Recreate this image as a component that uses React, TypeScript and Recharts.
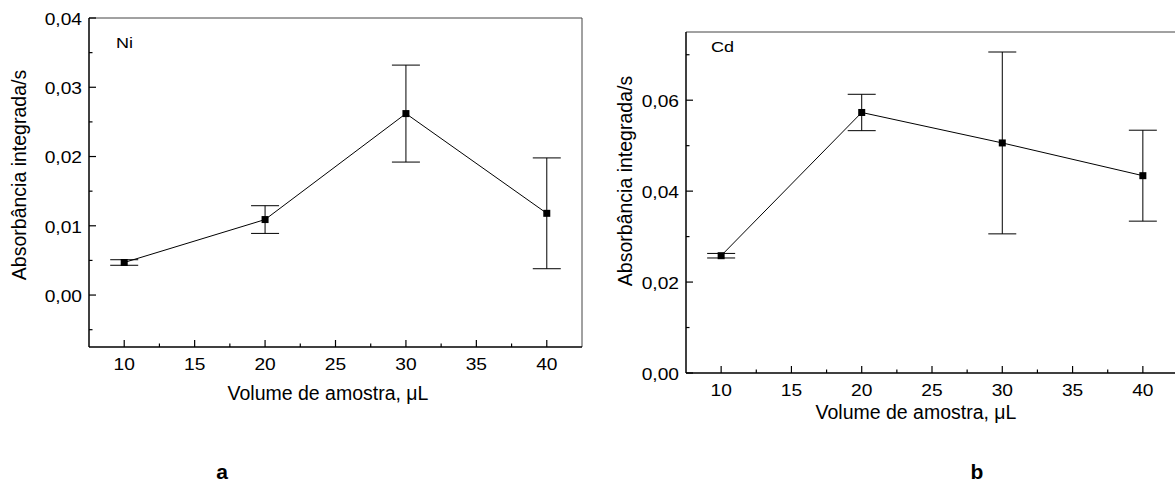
import React from 'react';
import { LineChart, Line, XAxis, YAxis, ErrorBar, ReferenceLine } from 'recharts';

const volumes = [10, 20, 30, 40];
const niValues = [0.0047, 0.0109, 0.0262, 0.0118];
const niErrors = [0.0004, 0.002, 0.007, 0.008];
const cdValues = [0.0258, 0.0573, 0.0506, 0.0434];
const cdErrors = [0.0005, 0.004, 0.02, 0.01];

const xMajorTicks = [10, 15, 20, 25, 30, 35, 40];
const xMinorTicks = [12.5, 17.5, 22.5, 27.5, 32.5, 37.5];
const niYMajorTicks = [0, 0.01, 0.02, 0.03, 0.04];
const niYMinorTicks = [-0.005, 0.005, 0.015, 0.025, 0.035];
const cdYMajorTicks = [0, 0.02, 0.04, 0.06];
const cdYMinorTicks = [0.01, 0.03, 0.05, 0.07];

const xDomain: [number, number] = [7.5, 42.5];
const niYDomain: [number, number] = [-0.0075, 0.04];
const cdYDomain: [number, number] = [0, 0.075];

const yTitle = 'Absorbância integrada/s';
const xTitle = 'Volume de amostra, \u03bcL';

const FONT = '"Liberation Sans", Arial, Helvetica, sans-serif';
const SX = 1.2; // the source text looks stretched sideways

const niData = volumes.map((v, i) => ({ vol: v, value: niValues[i], err: niErrors[i] }));
const cdData = volumes.map((v, i) => ({ vol: v, value: cdValues[i], err: cdErrors[i] }));

const sortNums = (a: number[]) => [...a].sort((p, q) => p - q);
const isIn = (arr: number[], v: number) => arr.some(m => Math.abs(m - v) < 1e-9);
const fmt = (v: number) => v.toFixed(2).replace('.', ',');

const makeYTick = (majors: number[]) => (props: any) => {
  const { x, y, payload } = props;
  const v = payload.value;
  const major = isIn(majors, v);
  return (
    <g>
      <line x1={x} x2={x + (major ? 7 : 3.5)} y1={y} y2={y} stroke="#000" strokeWidth={1.2} />
      {major && (
        <text transform={`translate(${x - 7},${y}) scale(${SX},1)`} textAnchor="end" dy="0.42em"
          fontSize={16} fontFamily={FONT} fill="#000">{fmt(v)}</text>
      )}
    </g>
  );
};

const makeXTick = (gap: number) => (props: any) => {
  const { x, y, payload } = props;
  const v = payload.value;
  const major = isIn(xMajorTicks, v);
  return (
    <g>
      <line x1={x} x2={x} y1={y} y2={y - (major ? 7 : 3.5)} stroke="#000" strokeWidth={1.2} />
      {major && (
        <text transform={`translate(${x},${y + gap}) scale(${SX},1)`} textAnchor="middle" dy="0.71em"
          fontSize={16} fontFamily={FONT} fill="#000">{v}</text>
      )}
    </g>
  );
};

const squareDot = (p: any) => (
  <rect key={`d${p.index}`} x={p.cx - 3.5} y={p.cy - 3.5} width={7} height={7} fill="#000" />
);

const axisLine = { stroke: '#000', strokeWidth: 1.5 };

function Panel(props: {
  data: any[]; yDomain: [number, number]; yMajor: number[]; yMinor: number[];
  width: number; height: number; margin: any; yWidth: number; xHeight: number; xGap: number;
}) {
  const { data, yDomain, yMajor, yMinor, width, height, margin, yWidth, xHeight, xGap } = props;
  return (
    <LineChart width={width} height={height} data={data} margin={margin}>
      <XAxis dataKey="vol" type="number" domain={xDomain} allowDataOverflow
        ticks={sortNums([...xMajorTicks, ...xMinorTicks])} interval={0}
        height={xHeight} tickSize={0} tickMargin={0} tickLine={false} axisLine={axisLine}
        tick={makeXTick(xGap)} />
      <YAxis type="number" domain={yDomain} allowDataOverflow
        ticks={sortNums([...yMajor, ...yMinor])} interval={0}
        width={yWidth} tickSize={0} tickMargin={0} tickLine={false} axisLine={axisLine}
        tick={makeYTick(yMajor)} />
      <ReferenceLine y={yDomain[1]} stroke="#444" strokeWidth={1} />
      <ReferenceLine x={xDomain[1]} stroke="#444" strokeWidth={1} />
      <Line dataKey="value" stroke="#000" strokeWidth={1} dot={squareDot} activeDot={false}
        isAnimationActive={false}>
        <ErrorBar dataKey="err" width={14} stroke="#000" strokeWidth={1} direction="y"
          isAnimationActive={false} />
      </Line>
    </LineChart>
  );
}

export default function App() {
  return (
    <div style={{ position: 'absolute', left: 0, top: 0, width: 1175, height: 490, overflow: 'hidden', background: '#fff' }}>
      <div style={{ position: 'absolute', left: 0, top: 0 }}>
        <Panel data={niData} yDomain={niYDomain} yMajor={niYMajorTicks} yMinor={niYMinorTicks}
          width={600} height={420} margin={{ top: 18, right: 18, left: 0, bottom: 0 }}
          yWidth={89} xHeight={73} xGap={12} />
      </div>
      <div style={{ position: 'absolute', left: 600, top: 0 }}>
        <Panel data={cdData} yDomain={cdYDomain} yMajor={cdYMajorTicks} yMinor={cdYMinorTicks}
          width={600} height={440} margin={{ top: 32, right: 22, left: 0, bottom: 0 }}
          yWidth={86} xHeight={67} xGap={11.5} />
      </div>
      <svg width={1175} height={490} style={{ position: 'absolute', left: 0, top: 0, pointerEvents: 'none' }}
        fontFamily={FONT} fill="#000">
        <text transform="translate(25.5,175) rotate(-90)" textAnchor="middle" fontSize={19.5}>{yTitle}</text>
        <text transform="translate(632,181) rotate(-90)" textAnchor="middle" fontSize={19.5}>{yTitle}</text>
        <text x={328} y={400} textAnchor="middle" fontSize={19.5}>{xTitle}</text>
        <text x={916} y={419} textAnchor="middle" fontSize={19.5}>{xTitle}</text>
        <text transform={`translate(116,48.3) scale(${SX},1)`} fontSize={15}>Ni</text>
        <text transform={`translate(711,52.3) scale(${SX},1)`} fontSize={15}>Cd</text>
        <text x={222} y={479} textAnchor="middle" fontSize={21} fontWeight="bold">a</text>
        <text x={977} y={479} textAnchor="middle" fontSize={21} fontWeight="bold">b</text>
      </svg>
    </div>
  );
}
